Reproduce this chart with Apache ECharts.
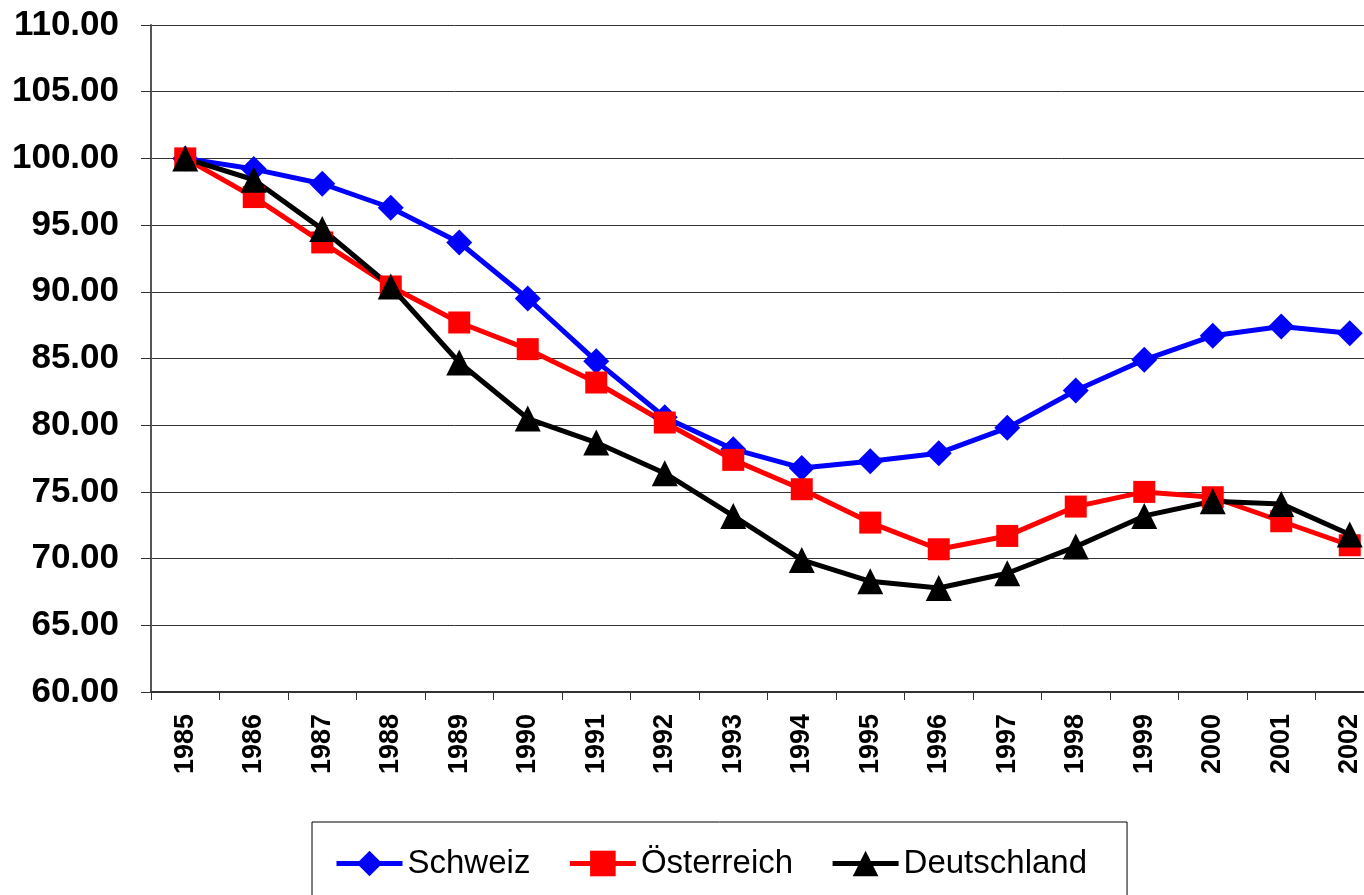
<!DOCTYPE html>
<html>
<head>
<meta charset="utf-8">
<script src="https://cdn.jsdelivr.net/npm/echarts@6/dist/echarts.min.js"></script>
<style>
  html, body { margin: 0; padding: 0; background: #fff; }
  #chart { width: 1364px; height: 895px; }
</style>
</head>
<body>
<div id="chart"></div>
<script>
// Jahre (x-Achse)
var years = ['1985','1986','1987','1988','1989','1990','1991','1992','1993',
             '1994','1995','1996','1997','1998','1999','2000','2001','2002'];

// Indexwerte, 1985 = 100
var schweiz = [100, 99.2, 98.1, 96.3, 93.7, 89.5, 84.8, 80.6, 78.2,
               76.8, 77.3, 77.9, 79.8, 82.6, 84.9, 86.7, 87.4, 86.9];
var oesterreich = [100, 97.1, 93.7, 90.4, 87.7, 85.7, 83.2, 80.2, 77.4,
                   75.2, 72.7, 70.7, 71.7, 73.9, 75.0, 74.6, 72.8, 71.0];
var deutschland = [100, 98.4, 94.7, 90.4, 84.7, 80.5, 78.7, 76.4, 73.2,
                   69.9, 68.3, 67.8, 68.9, 70.9, 73.2, 74.3, 74.1, 71.8];

var chart = echarts.init(document.getElementById('chart'));

function lineSeries(name, data, color, symbol, size) {
  return {
    name: name,
    type: 'line',
    data: data,
    symbol: symbol,
    symbolSize: size,
    color: color,
    lineStyle: { color: color, width: 5 },
    itemStyle: { color: color },
    animation: false
  };
}

chart.setOption({
  backgroundColor: '#fff',
  textStyle: { fontFamily: 'Liberation Sans, Arial, sans-serif' },
  // Plotfläche läuft rechts etwas über den Bildrand hinaus
  grid: { left: 151, top: 25, bottom: 203, width: 1233, outerBoundsMode: 'none', containLabel: false },
  legend: {
    left: 312,
    top: 822,
    padding: [25, 40, 40, 22],
    borderColor: '#000',
    borderWidth: 1,
    itemWidth: 66,
    itemHeight: 32,
    itemGap: 37,
    lineStyle: { width: 5 },
    textStyle: { fontSize: 33, color: '#000', fontFamily: 'Liberation Sans, Arial, sans-serif' },
    data: ['Schweiz', 'Österreich', 'Deutschland']
  },
  xAxis: {
    type: 'category',
    data: years,
    boundaryGap: true,
    axisLine: { lineStyle: { color: '#333', width: 2 } },
    axisTick: { show: true, length: 8, lineStyle: { color: '#333' } },
    axisLabel: {
      rotate: 90,
      fontSize: 27,
      fontWeight: 'bold',
      color: '#000',
      margin: 22
    }
  },
  yAxis: {
    type: 'value',
    min: 60,
    max: 110,
    interval: 5,
    axisLine: { show: true, lineStyle: { color: '#555', width: 2 } },
    axisTick: { show: true, length: 10, lineStyle: { color: '#333' } },
    splitLine: { lineStyle: { color: '#333', width: 1 } },
    axisLabel: {
      fontSize: 35,
      fontWeight: 'bold',
      color: '#000',
      margin: 32,
      formatter: function (v) { return v.toFixed(2); }
    }
  },
  series: [
    lineSeries('Schweiz', schweiz, '#0000ff', 'diamond', 26),
    lineSeries('Österreich', oesterreich, '#ff0000', 'rect', 22),
    lineSeries('Deutschland', deutschland, '#000000', 'triangle', 26)
  ]
});
</script>
</body>
</html>
